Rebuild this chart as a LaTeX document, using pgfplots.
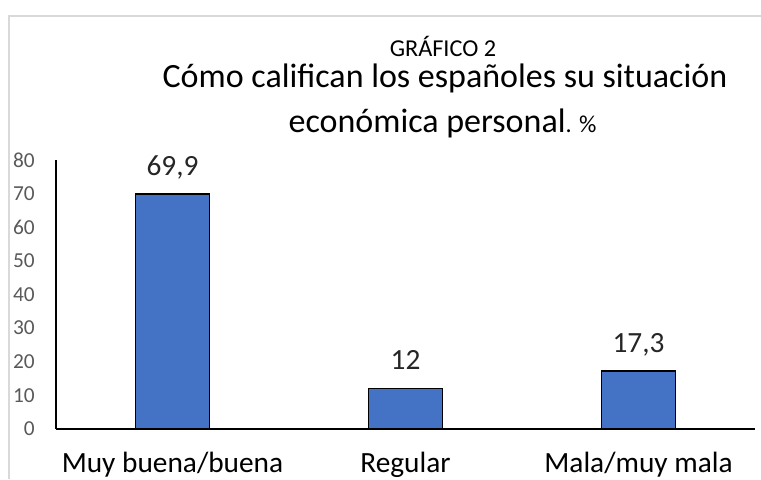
\documentclass[border=0pt]{standalone}
\usepackage{fontspec}
\setmainfont{Carlito}
\usepackage{pgfplots}
\pgfplotsset{compat=1.18}
\definecolor{barblue}{HTML}{4472C4}
\definecolor{tickgray}{HTML}{595959}
\definecolor{framegray}{HTML}{D9D9D9}
\definecolor{labeldark}{HTML}{262626}
\begin{document}
\begin{tikzpicture}[x=0.75pt,y=0.75pt]
\useasboundingbox (0,0) rectangle (761,479);
\draw[framegray, line width=1.5pt] (9,0) -- (9,463) -- (762,463);
\node[anchor=base, inner sep=0] at (443,422.5) {\fontsize{18.2}{22}\selectfont GRÁFICO 2};
\node[anchor=base, inner sep=0] at (445,391) {\fontsize{25.5}{30}\selectfont Cómo califican los españoles su situación};
\node[anchor=base, inner sep=0] at (442.5,346) {\fontsize{25.5}{30}\selectfont económica personal\fontsize{18.2}{22}\selectfont. \%};
\begin{axis}[
  at={(42pt,37.5pt)}, anchor=south west,
  scale only axis,
  width=524.25pt, height=201.75pt,
  xmin=-0.5, xmax=2.5, ymin=0, ymax=80,
  axis x line=bottom, axis y line=left,
  axis line style={-, black, line width=1.3pt},
  xtick={0,1,2},
  xticklabels={Muy buena/buena, Regular, Mala/muy mala},
  ytick={0,10,...,80},
  major tick length=0pt,
  /pgf/number format/assume math mode=true,
  x tick label style={anchor=base, yshift=-32.5pt, inner sep=0pt, font=\fontsize{22}{26}\selectfont, text=black},
  y tick label style={anchor=east, xshift=-15.75pt, inner sep=0pt, font=\fontsize{16}{19}\selectfont, text=tickgray},
  ybar, bar width=55.5pt,
  nodes near coords,
  nodes near coords style={/pgf/number format/use comma, /pgf/number format/assume math mode=true},
  every node near coord/.append style={anchor=base, yshift=14pt, inner sep=0pt, font=\fontsize{22}{26}\selectfont, text=labeldark},
  clip=false,
]
\addplot[fill=barblue, draw=black, line width=1.1pt, bar shift=0pt] coordinates {(0,69.9) (1,12) (2,17.3)};
\end{axis}
\end{tikzpicture}
\end{document}
